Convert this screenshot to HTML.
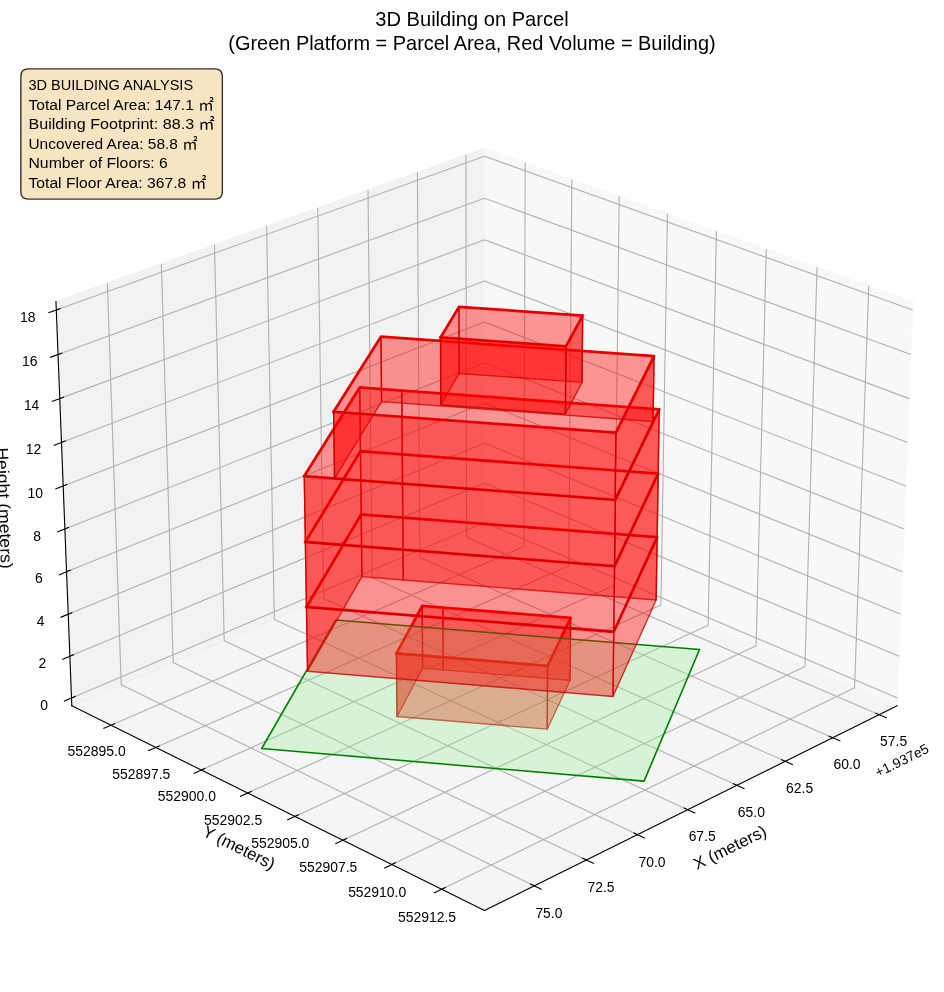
<!DOCTYPE html>
<html lang="en">
<head>
<meta charset="utf-8">
<title>3D Building on Parcel</title>
<style>
html,body{margin:0;padding:0;background:#ffffff;}
body{width:944px;height:992px;overflow:hidden;font-family:'Liberation Sans','Noto Sans CJK JP',sans-serif;}
svg{display:block;}
</style>
</head>
<body>
<svg width="944" height="992" viewBox="0 0 679.68 714.24">
 <defs>
  <style type="text/css">*{stroke-linejoin: round; stroke-linecap: butt}</style>
 </defs>
 <g id="figure_1">
  <g id="patch_1">
   <path d="M 0 714.24  L 679.68 714.24  L 679.68 0  L 0 0  z" style="fill: #ffffff"/>
  </g>
  <g id="patch_2">
   <path d="M 7.2 707.04  L 672.48 707.04  L 672.48 41.76  L 7.2 41.76  z" style="fill: #ffffff"/>
  </g>
  <g id="pane3d_1">
   <g id="patch_3">
    <path d="M 348.83 381.44  L 645.94 508.21  L 657.36 217.11  L 348.83 106.82 " style="fill: #f2f2f2; opacity: 0.5; stroke: #f2f2f2; stroke-linejoin: miter"/>
   </g>
  </g>
  <g id="pane3d_2">
   <g id="patch_4">
    <path d="M 348.83 381.44  L 51.71 508.21  L 40.29 217.11  L 348.83 106.82 " style="fill: #e6e6e6; opacity: 0.5; stroke: #e6e6e6; stroke-linejoin: miter"/>
   </g>
  </g>
  <g id="pane3d_3">
   <g id="patch_5">
    <path d="M 348.83 381.44  L 51.71 508.21  L 348.83 655.50  L 645.94 508.21 " style="fill: #ececec; opacity: 0.5; stroke: #ececec; stroke-linejoin: miter"/>
   </g>
  </g>
  <g id="grid3d_1">
   <g id="Line3DCollection_1">
    <path d="M 633.13 514.56  L 335.95 386.94  L 335.49 111.59 " style="fill: none; stroke: #b0b0b0; stroke-width: 0.8"/>
    <path d="M 599.56 531.20  L 302.23 401.32  L 300.55 124.08 " style="fill: none; stroke: #b0b0b0; stroke-width: 0.8"/>
    <path d="M 565.38 548.15  L 267.93 415.96  L 264.99 136.79 " style="fill: none; stroke: #b0b0b0; stroke-width: 0.8"/>
    <path d="M 530.56 565.41  L 233.05 430.84  L 228.79 149.73 " style="fill: none; stroke: #b0b0b0; stroke-width: 0.8"/>
    <path d="M 495.09 582.99  L 197.56 445.98  L 191.94 162.90 " style="fill: none; stroke: #b0b0b0; stroke-width: 0.8"/>
    <path d="M 458.94 600.91  L 161.44 461.39  L 154.43 176.31 " style="fill: none; stroke: #b0b0b0; stroke-width: 0.8"/>
    <path d="M 422.11 619.17  L 124.69 477.07  L 116.22 189.97 " style="fill: none; stroke: #b0b0b0; stroke-width: 0.8"/>
    <path d="M 384.57 637.78  L 87.28 493.04  L 77.31 203.88 " style="fill: none; stroke: #b0b0b0; stroke-width: 0.8"/>
   </g>
  </g>
  <g id="grid3d_2">
   <g id="Line3DCollection_2">
    <path d="M 378.15 117.30  L 377.14 393.52  L 79.88 522.17 " style="fill: none; stroke: #b0b0b0; stroke-width: 0.8"/>
    <path d="M 411.71 129.3023  L 409.51 407.33  L 112.12 538.16 " style="fill: none; stroke: #b0b0b0; stroke-width: 0.8"/>
    <path d="M 445.83 141.49  L 442.41 421.37  L 144.93 554.42 " style="fill: none; stroke: #b0b0b0; stroke-width: 0.8"/>
    <path d="M 480.53 153.90  L 475.85 435.64  L 178.33 570.97 " style="fill: none; stroke: #b0b0b0; stroke-width: 0.8"/>
    <path d="M 515.83 166.52  L 509.84 450.14  L 212.32 587.82 " style="fill: none; stroke: #b0b0b0; stroke-width: 0.8"/>
    <path d="M 551.74 179.35  L 544.41 464.89  L 246.92 604.98 " style="fill: none; stroke: #b0b0b0; stroke-width: 0.8"/>
    <path d="M 588.29 192.42  L 579.56 479.89  L 282.15 622.45 " style="fill: none; stroke: #b0b0b0; stroke-width: 0.8"/>
    <path d="M 625.48 205.71  L 615.30 495.14  L 318.04 640.23 " style="fill: none; stroke: #b0b0b0; stroke-width: 0.8"/>
   </g>
  </g>
  <g id="grid3d_3">
   <g id="Line3DCollection_3">
    <path d="M 51.49 502.60  L 348.83 376.14  L 646.16 502.60 " style="fill: none; stroke: #b0b0b0; stroke-width: 0.8"/>
    <path d="M 50.31 472.53  L 348.83 347.71  L 647.34 472.53 " style="fill: none; stroke: #b0b0b0; stroke-width: 0.8"/>
    <path d="M 49.12 442.23  L 348.83 319.07  L 648.53 442.23 " style="fill: none; stroke: #b0b0b0; stroke-width: 0.8"/>
    <path d="M 47.92 411.69  L 348.83 290.22  L 649.73 411.69 " style="fill: none; stroke: #b0b0b0; stroke-width: 0.8"/>
    <path d="M 46.72 380.89  L 348.83 261.15  L 650.94 380.89 " style="fill: none; stroke: #b0b0b0; stroke-width: 0.8"/>
    <path d="M 45.50 349.85  L 348.83 231.87  L 652.15 349.85 " style="fill: none; stroke: #b0b0b0; stroke-width: 0.8"/>
    <path d="M 44.27 318.56  L 348.83 202.37  L 653.38 318.56 " style="fill: none; stroke: #b0b0b0; stroke-width: 0.8"/>
    <path d="M 43.03 287.02  L 348.83 172.64  L 654.62 287.02 " style="fill: none; stroke: #b0b0b0; stroke-width: 0.8"/>
    <path d="M 41.78 255.21  L 348.83 142.69  L 655.87 255.21 " style="fill: none; stroke: #b0b0b0; stroke-width: 0.8"/>
    <path d="M 40.52 223.15  L 348.83 112.51  L 657.13 223.15 " style="fill: none; stroke: #b0b0b0; stroke-width: 0.8"/>
   </g>
  </g>
  <g id="axis3d_1">
   <g id="line2d_1">
    <path d="M 645.94 508.21  L 348.83 655.50 " style="fill: none; stroke: #000000; stroke-width: 0.8; stroke-linecap: square"/>
   </g>
   <g id="xtick_1">
    <g id="line2d_2">
     <path d="M 630.57 513.46  L 638.25 516.76 " style="fill: none; stroke: #000000; stroke-width: 0.8; stroke-linecap: square"/>
    </g>
   </g>
   <g id="xtick_2">
    <g id="line2d_3">
     <path d="M 597.00 530.08  L 604.69 533.44 " style="fill: none; stroke: #000000; stroke-width: 0.8; stroke-linecap: square"/>
    </g>
   </g>
   <g id="xtick_3">
    <g id="line2d_4">
     <path d="M 562.82 547.01  L 570.51 550.43 " style="fill: none; stroke: #000000; stroke-width: 0.8; stroke-linecap: square"/>
    </g>
   </g>
   <g id="xtick_4">
    <g id="line2d_5">
     <path d="M 527.99 564.25  L 535.69 567.73 " style="fill: none; stroke: #000000; stroke-width: 0.8; stroke-linecap: square"/>
    </g>
   </g>
   <g id="xtick_5">
    <g id="line2d_6">
     <path d="M 492.52 581.81  L 500.22 585.36 " style="fill: none; stroke: #000000; stroke-width: 0.8; stroke-linecap: square"/>
    </g>
   </g>
   <g id="xtick_6">
    <g id="line2d_7">
     <path d="M 456.38 599.71  L 464.08 603.32 " style="fill: none; stroke: #000000; stroke-width: 0.8; stroke-linecap: square"/>
    </g>
   </g>
   <g id="xtick_7">
    <g id="line2d_8">
     <path d="M 419.54 617.94  L 427.25 621.62 " style="fill: none; stroke: #000000; stroke-width: 0.8; stroke-linecap: square"/>
    </g>
   </g>
   <g id="xtick_8">
    <g id="line2d_9">
     <path d="M 382.00 636.53  L 389.71 640.28 " style="fill: none; stroke: #000000; stroke-width: 0.8; stroke-linecap: square"/>
    </g>
   </g>
  </g>
  <g id="axis3d_2">
   <g id="line2d_10">
    <path d="M 51.71 508.21  L 348.83 655.50 " style="fill: none; stroke: #000000; stroke-width: 0.8; stroke-linecap: square"/>
   </g>
   <g id="xtick_9">
    <g id="line2d_11">
     <path d="M 82.44 521.07  L 74.76 524.39 " style="fill: none; stroke: #000000; stroke-width: 0.8; stroke-linecap: square"/>
    </g>
   </g>
   <g id="xtick_10">
    <g id="line2d_12">
     <path d="M 114.68 537.03  L 107.00 540.41 " style="fill: none; stroke: #000000; stroke-width: 0.8; stroke-linecap: square"/>
    </g>
   </g>
   <g id="xtick_11">
    <g id="line2d_13">
     <path d="M 147.49 553.28  L 139.80 556.72 " style="fill: none; stroke: #000000; stroke-width: 0.8; stroke-linecap: square"/>
    </g>
   </g>
   <g id="xtick_12">
    <g id="line2d_14">
     <path d="M 180.89 569.81  L 173.19 573.31 " style="fill: none; stroke: #000000; stroke-width: 0.8; stroke-linecap: square"/>
    </g>
   </g>
   <g id="xtick_13">
    <g id="line2d_15">
     <path d="M 214.88 586.64  L 207.18 590.20 " style="fill: none; stroke: #000000; stroke-width: 0.8; stroke-linecap: square"/>
    </g>
   </g>
   <g id="xtick_14">
    <g id="line2d_16">
     <path d="M 249.49 603.77  L 241.78 607.40 " style="fill: none; stroke: #000000; stroke-width: 0.8; stroke-linecap: square"/>
    </g>
   </g>
   <g id="xtick_15">
    <g id="line2d_17">
     <path d="M 284.72 621.22  L 277.01 624.91 " style="fill: none; stroke: #000000; stroke-width: 0.8; stroke-linecap: square"/>
    </g>
   </g>
   <g id="xtick_16">
    <g id="line2d_18">
     <path d="M 320.60 638.98  L 312.89 642.75 " style="fill: none; stroke: #000000; stroke-width: 0.8; stroke-linecap: square"/>
    </g>
   </g>
  </g>
  <g id="axis3d_3">
   <g id="line2d_19">
    <path d="M 51.71 508.21  L 40.29 217.11 " style="fill: none; stroke: #000000; stroke-width: 0.8; stroke-linecap: square"/>
   </g>
   <g id="xtick_17">
    <g id="line2d_20">
     <path d="M 54.05 501.51  L 46.37 504.78 " style="fill: none; stroke: #000000; stroke-width: 0.8; stroke-linecap: square"/>
    </g>
   </g>
   <g id="xtick_18">
    <g id="line2d_21">
     <path d="M 52.88 471.46  L 45.17 474.68 " style="fill: none; stroke: #000000; stroke-width: 0.8; stroke-linecap: square"/>
    </g>
   </g>
   <g id="xtick_19">
    <g id="line2d_22">
     <path d="M 51.70 441.17  L 43.96 444.35 " style="fill: none; stroke: #000000; stroke-width: 0.8; stroke-linecap: square"/>
    </g>
   </g>
   <g id="xtick_20">
    <g id="line2d_23">
     <path d="M 50.51 410.64  L 42.74 413.7834 " style="fill: none; stroke: #000000; stroke-width: 0.8; stroke-linecap: square"/>
    </g>
   </g>
   <g id="xtick_21">
    <g id="line2d_24">
     <path d="M 49.31 379.86  L 41.51 382.96 " style="fill: none; stroke: #000000; stroke-width: 0.8; stroke-linecap: square"/>
    </g>
   </g>
   <g id="xtick_22">
    <g id="line2d_25">
     <path d="M 48.11 348.84  L 40.27 351.89 " style="fill: none; stroke: #000000; stroke-width: 0.8; stroke-linecap: square"/>
    </g>
   </g>
   <g id="xtick_23">
    <g id="line2d_26">
     <path d="M 46.89 317.56  L 39.02 320.57 " style="fill: none; stroke: #000000; stroke-width: 0.8; stroke-linecap: square"/>
    </g>
   </g>
   <g id="xtick_24">
    <g id="line2d_27">
     <path d="M 45.66 286.03  L 37.75 288.99 " style="fill: none; stroke: #000000; stroke-width: 0.8; stroke-linecap: square"/>
    </g>
   </g>
   <g id="xtick_25">
    <g id="line2d_28">
     <path d="M 44.43 254.24  L 36.48 257.16 " style="fill: none; stroke: #000000; stroke-width: 0.8; stroke-linecap: square"/>
    </g>
   </g>
   <g id="xtick_26">
    <g id="line2d_29">
     <path d="M 43.18 222.20  L 35.20 225.06 " style="fill: none; stroke: #000000; stroke-width: 0.8; stroke-linecap: square"/>
    </g>
   </g>
  </g>
  <g id="axes_1">
   <g id="line2d_30">
    <path d="M 285.44 470.47  L 394.28 479.38  L 410.83 444.87  L 318.90 437.49  L 304.00 436.30  L 285.44 470.47 " style="fill: none; stroke: #ff0000; stroke-width: 2; stroke-linecap: square"/>
   </g>
   <g id="line2d_31">
    <path d="M 220.65 437.04  L 441.90 454.86  L 473.16 386.79  L 290.00 372.62  L 260.06 370.30  L 220.65 437.04 " style="fill: none; stroke: #ff0000; stroke-width: 2; stroke-linecap: square"/>
   </g>
   <g id="line2d_32">
    <path d="M 219.86 390.23  L 442.47 407.68  L 473.90 341.03  L 289.66 327.17  L 259.53 324.90  L 219.86 390.23 " style="fill: none; stroke: #ff0000; stroke-width: 2; stroke-linecap: square"/>
   </g>
   <g id="line2d_33">
    <path d="M 219.07 342.84  L 443.06 359.92  L 474.65 294.73  L 289.30 281.17  L 259.00 278.95  L 219.07 342.84 " style="fill: none; stroke: #ff0000; stroke-width: 2; stroke-linecap: square"/>
   </g>
   <g id="line2d_34">
    <path d="M 240.19 296.49  L 443.44 311.54  L 470.93 256.43  L 274.28 242.39  L 240.19 296.49 " style="fill: none; stroke: #ff0000; stroke-width: 2; stroke-linecap: square"/>
   </g>
   <g id="line2d_35">
    <path d="M 317.21 242.96  L 407.48 249.40  L 419.52 227.19  L 330.48 220.93  L 317.21 242.96 " style="fill: none; stroke: #ff0000; stroke-width: 2; stroke-linecap: square"/>
   </g>
   <g id="Poly3DCollection_1">
    <g>
     <path d="M 319.08 -231.94 L 304.27 -233.16 L 304.00 -277.93 L 318.90 -276.74 z" transform="translate(0 714.24)" style="fill: #ff0000; fill-opacity: 0.4; stroke: #c50000; stroke-opacity: 0.77"/>
    </g>
   </g>
   <g id="Poly3DCollection_2">
    <g>
     <path d="M 410.47 -224.42 L 319.08 -231.94 L 318.90 -276.74 L 410.83 -269.36 z" transform="translate(0 714.24)" style="fill: #ff0000; fill-opacity: 0.4; stroke: #c50000; stroke-opacity: 0.77"/>
    </g>
   </g>
   <g id="Poly3DCollection_3">
    <g>
     <path d="M 304.27 -233.16 L 285.82 -198.32 L 285.44 -243.76 L 304.00 -277.93 z" transform="translate(0 714.24)" style="fill: #ff0000; fill-opacity: 0.4; stroke: #c50000; stroke-opacity: 0.77"/>
    </g>
   </g>
   <g id="Poly3DCollection_4">
    <g>
     <path d="M 394.00 -189.23 L 410.47 -224.42 L 410.83 -269.36 L 394.28 -234.85 z" transform="translate(0 714.24)" style="fill: #ff0000; fill-opacity: 0.4; stroke: #c50000; stroke-opacity: 0.77"/>
    </g>
   </g>
   <g id="Poly3DCollection_5">
    <g>
     <path d="M 285.82 -198.32 L 394.00 -189.23 L 394.28 -234.85 L 285.44 -243.76 z" transform="translate(0 714.24)" style="fill: #ff0000; fill-opacity: 0.4; stroke: #c50000; stroke-opacity: 0.77"/>
    </g>
   </g>
   <g id="Poly3DCollection_6">
    <g>
     <path d="M 188.41 -175.32 L 463.74 -151.81 L 503.67 -246.58 L 241.63 -267.79 z" transform="translate(0 714.24)" style="fill: #90ee90; fill-opacity: 0.3; stroke: #008000; stroke-width: 1.15"/>
    </g>
   </g>
   <g id="Poly3DCollection_7">
    <g>
     <path d="M 290.35 -296.68 L 260.57 -299.05 L 260.06 -343.93 L 290.00 -341.61 z" transform="translate(0 714.24)" style="fill: #ff0000; fill-opacity: 0.4; stroke: #c50000; stroke-opacity: 0.77"/>
    </g>
   </g>
   <g id="Poly3DCollection_8">
    <g>
     <path d="M 472.43 -282.22 L 290.35 -296.68 L 290.00 -341.61 L 473.16 -327.44 z" transform="translate(0 714.24)" style="fill: #ff0000; fill-opacity: 0.4; stroke: #c50000; stroke-opacity: 0.77"/>
    </g>
   </g>
   <g id="Poly3DCollection_9">
    <g>
     <path d="M 290.00 -341.61 L 260.06 -343.93 L 259.53 -389.33 L 289.66 -387.06 z" transform="translate(0 714.24)" style="fill: #ff0000; fill-opacity: 0.4; stroke: #c50000; stroke-opacity: 0.77"/>
    </g>
   </g>
   <g id="Poly3DCollection_10">
    <g>
     <path d="M 473.16 -327.44 L 290.00 -341.61 L 289.66 -387.06 L 473.90 -373.20 z" transform="translate(0 714.24)" style="fill: #ff0000; fill-opacity: 0.4; stroke: #c50000; stroke-opacity: 0.77"/>
    </g>
   </g>
   <g id="Poly3DCollection_11">
    <g>
     <path d="M 289.66 -387.06 L 259.53 -389.33 L 259.00 -435.28 L 289.30 -433.06 z" transform="translate(0 714.24)" style="fill: #ff0000; fill-opacity: 0.4; stroke: #c50000; stroke-opacity: 0.77"/>
    </g>
   </g>
   <g id="Poly3DCollection_12">
    <g>
     <path d="M 473.90 -373.20 L 289.66 -387.06 L 289.30 -433.06 L 474.65 -419.50 z" transform="translate(0 714.24)" style="fill: #ff0000; fill-opacity: 0.4; stroke: #c50000; stroke-opacity: 0.77"/>
    </g>
   </g>
   <g id="Poly3DCollection_13">
    <g>
     <path d="M 260.57 -299.05 L 221.43 -230.95 L 220.65 -277.19 L 260.06 -343.93 z" transform="translate(0 714.24)" style="fill: #ff0000; fill-opacity: 0.4; stroke: #c50000; stroke-opacity: 0.77"/>
    </g>
   </g>
   <g id="Poly3DCollection_14">
    <g>
     <path d="M 260.06 -343.93 L 220.65 -277.19 L 219.86 -324.00 L 259.53 -389.33 z" transform="translate(0 714.24)" style="fill: #ff0000; fill-opacity: 0.4; stroke: #c50000; stroke-opacity: 0.77"/>
    </g>
   </g>
   <g id="Poly3DCollection_15">
    <g>
     <path d="M 470.20 -410.73 L 274.72 -425.11 L 274.28 -471.84 L 470.93 -457.80 z" transform="translate(0 714.24)" style="fill: #ff0000; fill-opacity: 0.4; stroke: #c50000; stroke-opacity: 0.77"/>
    </g>
   </g>
   <g id="Poly3DCollection_16">
    <g>
     <path d="M 441.33 -212.76 L 472.43 -282.22 L 473.16 -327.44 L 441.90 -259.37 z" transform="translate(0 714.24)" style="fill: #ff0000; fill-opacity: 0.4; stroke: #c50000; stroke-opacity: 0.77"/>
    </g>
   </g>
   <g id="Poly3DCollection_17">
    <g>
     <path d="M 259.53 -389.33 L 219.86 -324.00 L 219.07 -371.39 L 259.00 -435.28 z" transform="translate(0 714.24)" style="fill: #ff0000; fill-opacity: 0.4; stroke: #c50000; stroke-opacity: 0.77"/>
    </g>
   </g>
   <g id="Poly3DCollection_18">
    <g>
     <path d="M 441.90 -259.37 L 473.16 -327.44 L 473.90 -373.20 L 442.47 -306.55 z" transform="translate(0 714.24)" style="fill: #ff0000; fill-opacity: 0.4; stroke: #c50000; stroke-opacity: 0.77"/>
    </g>
   </g>
   <g id="Poly3DCollection_19">
    <g>
     <path d="M 274.72 -425.11 L 240.86 -369.73 L 240.19 -417.74 L 274.28 -471.84 z" transform="translate(0 714.24)" style="fill: #ff0000; fill-opacity: 0.4; stroke: #c50000; stroke-opacity: 0.77"/>
    </g>
   </g>
   <g id="Poly3DCollection_20">
    <g>
     <path d="M 442.47 -306.55 L 473.90 -373.20 L 474.65 -419.50 L 443.06 -354.31 z" transform="translate(0 714.24)" style="fill: #ff0000; fill-opacity: 0.4; stroke: #c50000; stroke-opacity: 0.77"/>
    </g>
   </g>
   <g id="Poly3DCollection_21">
    <g>
     <path d="M 221.43 -230.95 L 441.33 -212.76 L 441.90 -259.37 L 220.65 -277.19 z" transform="translate(0 714.24)" style="fill: #ff0000; fill-opacity: 0.4; stroke: #c50000; stroke-opacity: 0.77"/>
    </g>
   </g>
   <g id="Poly3DCollection_22">
    <g>
     <path d="M 419.08 -438.95 L 330.59 -445.36 L 330.48 -493.30 L 419.52 -487.04 z" transform="translate(0 714.24)" style="fill: #ff0000; fill-opacity: 0.4; stroke: #c50000; stroke-opacity: 0.77"/>
    </g>
   </g>
   <g id="Poly3DCollection_23">
    <g>
     <path d="M 220.65 -277.19 L 441.90 -259.37 L 442.47 -306.55 L 219.86 -324.00 z" transform="translate(0 714.24)" style="fill: #ff0000; fill-opacity: 0.4; stroke: #c50000; stroke-opacity: 0.77"/>
    </g>
   </g>
   <g id="Poly3DCollection_24">
    <g>
     <path d="M 442.85 -354.33 L 470.20 -410.73 L 470.93 -457.80 L 443.44 -402.69 z" transform="translate(0 714.24)" style="fill: #ff0000; fill-opacity: 0.4; stroke: #c50000; stroke-opacity: 0.77"/>
    </g>
   </g>
   <g id="Poly3DCollection_25">
    <g>
     <path d="M 330.59 -445.36 L 317.41 -422.78 L 317.21 -471.27 L 330.48 -493.30 z" transform="translate(0 714.24)" style="fill: #ff0000; fill-opacity: 0.4; stroke: #c50000; stroke-opacity: 0.77"/>
    </g>
   </g>
   <g id="Poly3DCollection_26">
    <g>
     <path d="M 219.86 -324.00 L 442.47 -306.55 L 443.06 -354.31 L 219.07 -371.39 z" transform="translate(0 714.24)" style="fill: #ff0000; fill-opacity: 0.4; stroke: #c50000; stroke-opacity: 0.77"/>
    </g>
   </g>
   <g id="Poly3DCollection_27">
    <g>
     <path d="M 407.12 -416.18 L 419.08 -438.95 L 419.52 -487.04 L 407.48 -464.83 z" transform="translate(0 714.24)" style="fill: #ff0000; fill-opacity: 0.4; stroke: #c50000; stroke-opacity: 0.77"/>
    </g>
   </g>
   <g id="Poly3DCollection_28">
    <g>
     <path d="M 240.86 -369.73 L 442.85 -354.33 L 443.44 -402.69 L 240.19 -417.74 z" transform="translate(0 714.24)" style="fill: #ff0000; fill-opacity: 0.4; stroke: #c50000; stroke-opacity: 0.77"/>
    </g>
   </g>
   <g id="Poly3DCollection_29">
    <g>
     <path d="M 317.41 -422.78 L 407.12 -416.18 L 407.48 -464.83 L 317.21 -471.27 z" transform="translate(0 714.24)" style="fill: #ff0000; fill-opacity: 0.4; stroke: #c50000; stroke-opacity: 0.77"/>
    </g>
   </g>
  </g>
 </g>
 <g id="labels" transform="scale(0.72)" style="font-family: 'Liberation Sans', 'Noto Sans CJK JP', sans-serif; fill: #000000">
<path d="M28.48 199.12 L214.73 199.12 Q222.37 199.12 222.37 191.48 L222.37 76.48 Q222.37 68.84 214.73 68.84 L28.48 68.84 Q20.84 68.84 20.84 76.48 L20.84 191.48 Q20.84 199.12 28.48 199.12 Z" style="fill: #f5deb3; fill-opacity: 0.8; stroke: #000000; stroke-opacity: 0.8; stroke-width: 1.39; stroke-linejoin: miter"/>
<text x="375.25" y="25.88" font-size="19.444" textLength="193.50" lengthAdjust="spacingAndGlyphs">3D Building on Parcel</text>
<text x="228.37" y="50.27" font-size="19.444" textLength="487.25" lengthAdjust="spacingAndGlyphs">(Green Platform = Parcel Area, Red Volume = Building)</text>
<text x="28.48" y="90.08" font-size="15.278" textLength="164.62" lengthAdjust="spacingAndGlyphs">3D BUILDING ANALYSIS</text>
<text x="28.48" y="109.68" font-size="15.278" textLength="185.25" lengthAdjust="spacingAndGlyphs">Total Parcel Area: 147.1 ㎡</text>
<text x="28.48" y="129.28" font-size="15.278" textLength="186.25" lengthAdjust="spacingAndGlyphs">Building Footprint: 88.3 ㎡</text>
<text x="28.48" y="148.88" font-size="15.278" textLength="169.12" lengthAdjust="spacingAndGlyphs">Uncovered Area: 58.8 ㎡</text>
<text x="28.48" y="168.48" font-size="15.278" textLength="139.38" lengthAdjust="spacingAndGlyphs">Number of Floors: 6</text>
<text x="28.48" y="188.08" font-size="15.278" textLength="177.88" lengthAdjust="spacingAndGlyphs">Total Floor Area: 367.8 ㎡</text>
<text x="697.08" y="870.11" font-size="16.667" textLength="79.00" lengthAdjust="spacingAndGlyphs" transform="rotate(-26.369 697.08 870.11)">X (meters)</text>
<text x="201.40" y="835.16" font-size="16.667" textLength="78.38" lengthAdjust="spacingAndGlyphs" transform="rotate(-333.631 201.40 835.16)">Y (meters)</text>
<text x="-3.61" y="447.65" font-size="16.667" textLength="121.38" lengthAdjust="spacingAndGlyphs" transform="rotate(-272.248 -3.61 447.65)">Height (meters)</text>
<text x="878.05" y="777.60" font-size="13.889" textLength="57.88" lengthAdjust="spacingAndGlyphs" transform="rotate(-26.369 878.05 777.60)">+1.937e5</text>
<text x="880.11" y="745.58" font-size="13.889" textLength="27.00" lengthAdjust="spacingAndGlyphs">57.5</text>
<text x="833.50" y="768.90" font-size="13.889" textLength="27.12" lengthAdjust="spacingAndGlyphs">60.0</text>
<text x="786.09" y="792.64" font-size="13.889" textLength="27.12" lengthAdjust="spacingAndGlyphs">62.5</text>
<text x="737.80" y="816.83" font-size="13.889" textLength="27.12" lengthAdjust="spacingAndGlyphs">65.0</text>
<text x="688.67" y="841.47" font-size="13.889" textLength="27.00" lengthAdjust="spacingAndGlyphs">67.5</text>
<text x="638.54" y="866.58" font-size="13.889" textLength="27.00" lengthAdjust="spacingAndGlyphs">70.0</text>
<text x="587.46" y="892.17" font-size="13.889" textLength="27.00" lengthAdjust="spacingAndGlyphs">72.5</text>
<text x="535.38" y="918.25" font-size="13.889" textLength="27.00" lengthAdjust="spacingAndGlyphs">75.0</text>
<text x="67.60" y="756.25" font-size="13.889" textLength="58.12" lengthAdjust="spacingAndGlyphs">552895.0</text>
<text x="112.37" y="778.64" font-size="13.889" textLength="58.00" lengthAdjust="spacingAndGlyphs">552897.5</text>
<text x="157.81" y="801.44" font-size="13.889" textLength="58.12" lengthAdjust="spacingAndGlyphs">552900.0</text>
<text x="204.12" y="824.63" font-size="13.889" textLength="58.12" lengthAdjust="spacingAndGlyphs">552902.5</text>
<text x="251.26" y="848.24" font-size="13.889" textLength="58.12" lengthAdjust="spacingAndGlyphs">552905.0</text>
<text x="299.32" y="872.28" font-size="13.889" textLength="58.00" lengthAdjust="spacingAndGlyphs">552907.5</text>
<text x="348.13" y="896.76" font-size="13.889" textLength="58.12" lengthAdjust="spacingAndGlyphs">552910.0</text>
<text x="397.90" y="921.69" font-size="13.889" textLength="58.12" lengthAdjust="spacingAndGlyphs">552912.5</text>
<text x="40.24" y="709.66" font-size="13.889" textLength="7.75" lengthAdjust="spacingAndGlyphs">0</text>
<text x="38.49" y="667.91" font-size="13.889" textLength="7.75" lengthAdjust="spacingAndGlyphs">2</text>
<text x="36.79" y="625.82" font-size="13.889" textLength="7.62" lengthAdjust="spacingAndGlyphs">4</text>
<text x="34.95" y="583.39" font-size="13.889" textLength="7.75" lengthAdjust="spacingAndGlyphs">6</text>
<text x="33.16" y="540.63" font-size="13.889" textLength="7.75" lengthAdjust="spacingAndGlyphs">8</text>
<text x="27.48" y="497.51" font-size="13.889" textLength="15.50" lengthAdjust="spacingAndGlyphs">10</text>
<text x="25.66" y="454.05" font-size="13.889" textLength="15.50" lengthAdjust="spacingAndGlyphs">12</text>
<text x="23.89" y="410.24" font-size="13.889" textLength="15.38" lengthAdjust="spacingAndGlyphs">14</text>
<text x="21.98" y="366.07" font-size="13.889" textLength="15.50" lengthAdjust="spacingAndGlyphs">16</text>
<text x="20.12" y="321.54" font-size="13.889" textLength="15.50" lengthAdjust="spacingAndGlyphs">18</text>
</g>
</svg>

</body>
</html>
